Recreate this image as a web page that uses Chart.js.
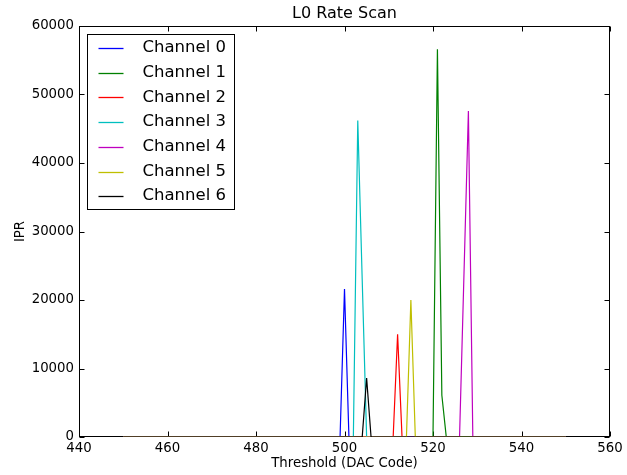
<!DOCTYPE html>
<html>
<head>
<meta charset="utf-8">
<script src="https://cdn.jsdelivr.net/npm/chart.js@4"></script>
<style>
  html, body { margin: 0; padding: 0; background: #fff; }
  canvas { display: block; }
</style>
</head>
<body>
<canvas id="scan" width="627" height="475"></canvas>
<script>
/* L0 rate scan – IPR vs threshold, one trace per channel.
   Values; all other thresholds sit at 0. */

const channelNames  = ['Channel 0', 'Channel 1', 'Channel 2', 'Channel 3', 'Channel 4', 'Channel 5', 'Channel 6'];
const channelColors = ['#0000ff', '#008000', '#ff0000', '#00bfbf', '#bf00bf', '#bfbf00', '#000000'];

// threshold (DAC code) / IPR pairs per channel
const ch0Thr = [450, 499, 500, 501, 550];
const ch0Ipr = [0, 0, 21600, 0, 0];
const ch1Thr = [450, 520, 521, 522, 523, 550];
const ch1Ipr = [0, 0, 56600, 6100, 0, 0];
const ch2Thr = [450, 511, 512, 513, 550];
const ch2Ipr = [0, 0, 15000, 0, 0];
const ch3Thr = [450, 502, 503, 504, 505, 550];
const ch3Ipr = [0, 0, 46200, 23000, 0, 0];
const ch4Thr = [450, 526, 527, 528, 529, 550];
const ch4Ipr = [0, 0, 23800, 47600, 0, 0];
const ch5Thr = [450, 514, 515, 516, 550];
const ch5Ipr = [0, 0, 20000, 0, 0];
const ch6Thr = [450, 504, 505, 506, 550];
const ch6Ipr = [0, 0, 8600, 0, 0];

const xTickVals = [440, 460, 480, 500, 520, 540, 560];
const yTickVals = [0, 10000, 20000, 30000, 40000, 50000, 60000];

const titleText = 'L0 Rate Scan';
const xLabel    = 'Threshold (DAC Code)';
const yLabel    = 'IPR';

const thrs = [ch0Thr, ch1Thr, ch2Thr, ch3Thr, ch4Thr, ch5Thr, ch6Thr];
const iprs = [ch0Ipr, ch1Ipr, ch2Ipr, ch3Ipr, ch4Ipr, ch5Ipr, ch6Ipr];

const FONT = "'DejaVu Sans', sans-serif";

// ── frame + inward ticks on all four sides, title centred over the axes ──
const frameTicks = {
  id: 'frameTicks',
  beforeDatasetsDraw(chart) {
    const { ctx, chartArea: a, scales } = chart;
    const L = Math.round(a.left) + 0.5, R = Math.round(a.right) - 0.5;
    const T = Math.round(a.top) + 0.5,  B = Math.round(a.bottom) - 0.5;
    const len = 5;
    ctx.save();
    ctx.strokeStyle = '#000';
    ctx.lineWidth = 1;
    ctx.beginPath();
    scales.x.ticks.forEach(t => {
      const px = Math.round(scales.x.getPixelForValue(t.value)) + 0.5;
      ctx.moveTo(px, B); ctx.lineTo(px, B - len);
      ctx.moveTo(px, T); ctx.lineTo(px, T + len);
    });
    scales.y.ticks.forEach(t => {
      const py = Math.round(scales.y.getPixelForValue(t.value)) + 0.5;
      ctx.moveTo(L, py); ctx.lineTo(L + len, py);
      ctx.moveTo(R, py); ctx.lineTo(R - len, py);
    });
    ctx.stroke();
    ctx.strokeRect(L, T, R - L, B - T);

    ctx.fillStyle = '#000';
    ctx.font = `16px ${FONT}`;
    ctx.textAlign = 'center';
    ctx.textBaseline = 'alphabetic';
    ctx.fillText(titleText, (a.left + a.right) / 2, 17.5);
    ctx.restore();
  }
};

// ── boxed legend in the upper-left of the axes ──
const boxLegend = {
  id: 'boxLegend',
  afterDraw(chart) {
    const { ctx, chartArea: a } = chart;
    const x0 = Math.round(a.left) + 8.5, y0 = Math.round(a.top) + 8.5;
    const w = 147, h = 175, rowH = 24.7;
    ctx.save();
    ctx.fillStyle = '#fff';
    ctx.fillRect(x0, y0, w, h);
    ctx.strokeStyle = '#000';
    ctx.lineWidth = 1;
    ctx.strokeRect(x0, y0, w, h);
    ctx.font = `16.5px ${FONT}`;
    ctx.textBaseline = 'middle';
    channelNames.forEach((name, i) => {
      const y = y0 + 13.5 + i * rowH;
      ctx.strokeStyle = channelColors[i];
      ctx.lineWidth = 1.3;
      ctx.beginPath();
      ctx.moveTo(x0 + 11, Math.round(y) + 0.5);
      ctx.lineTo(x0 + 36, Math.round(y) + 0.5);
      ctx.stroke();
      ctx.fillStyle = '#000';
      ctx.fillText(name, x0 + 55, y);
    });
    ctx.restore();
  }
};

new Chart(document.getElementById('scan'), {
  type: 'line',
  data: {
    datasets: channelNames.map((name, i) => ({
      label: name,
      data: thrs[i].map((x, k) => ({ x, y: iprs[i][k] })),
      borderColor: channelColors[i],
      backgroundColor: channelColors[i],
      borderWidth: 1.2,
      pointRadius: 0,
      tension: 0,
      fill: false,
      order: channelNames.length - i,   // later channels on top, like matplotlib
    })),
  },
  options: {
    responsive: false,
    animation: false,
    devicePixelRatio: 1,
    layout: { padding: { top: 26, right: 17 } },
    plugins: {
      legend: { display: false },
      tooltip: { enabled: false },
      title: { display: false },
    },
    scales: {
      x: {
        type: 'linear', min: 440, max: 560,
        afterBuildTicks: s => { s.ticks = xTickVals.map(v => ({ value: v })); },
        afterFit: s => { s.height = 38; },
        grid: { display: false, drawTicks: false },
        border: { display: false },
        ticks: { color: '#000', padding: 4, font: { family: FONT, size: 13.3 }, callback: v => String(v) },
        title: {
          display: true, text: xLabel, color: '#000',
          font: { family: FONT, size: 13.3 }, padding: { top: 0, bottom: 3 },
        },
      },
      y: {
        min: 0, max: 60000,
        afterBuildTicks: s => { s.ticks = yTickVals.map(v => ({ value: v })); },
        afterFit: s => { s.width = 79; },
        grid: { display: false, drawTicks: false },
        border: { display: false },
        ticks: { color: '#000', padding: 5, font: { family: FONT, size: 13.3 }, callback: v => String(v) },
        title: {
          display: true, text: yLabel, color: '#000',
          font: { family: FONT, size: 13.3 }, padding: { top: 13, bottom: 0 },
        },
      },
    },
  },
  plugins: [frameTicks, boxLegend],
});
</script>
</body>
</html>
